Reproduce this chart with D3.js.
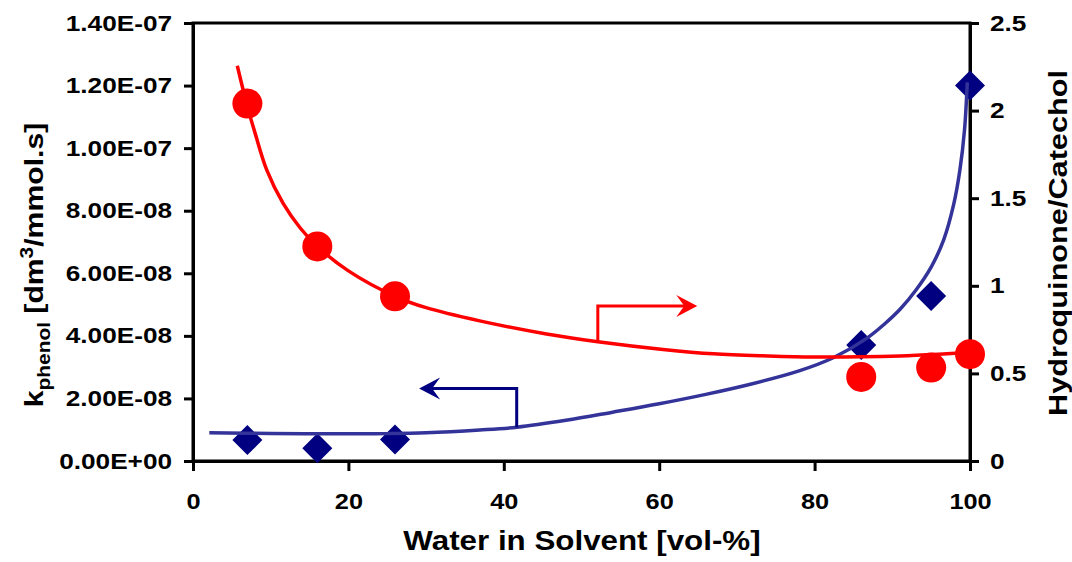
<!DOCTYPE html>
<html>
<head>
<meta charset="utf-8">
<script src="https://cdn.jsdelivr.net/npm/d3@7"></script>
<style>
  body { margin: 0; background: #fff; }
  svg text { font-family: Arial, "Liberation Sans", sans-serif; font-weight: bold; fill: #000; }
  .axis path, .axis line { stroke: #000; stroke-width: 3; }
</style>
</head>
<body>
<div id="chart"></div>
<script>
// measured points
const waterPct = [7, 16, 26, 86, 95, 100];
const kPhenol = [6.7e-9, 4.1e-9, 6.9e-9, 3.71e-8, 5.27e-8, 1.2e-7];
const hqCatRatio = [2.04, 1.225, 0.94, 0.48, 0.533, 0.61];

// trend lines
const kFitX = [2.1, 10, 20, 25, 30, 36.9, 41.7, 48, 54, 60, 66, 72, 78, 82.4, 86.7, 89, 91, 93, 95, 96.6, 97.9, 98.7, 99.3, 99.65];
const kFitY = [9.0e-9, 8.8e-9, 8.7e-9, 8.75e-9, 9.0e-9, 9.9e-9, 1.08e-8, 1.30e-8, 1.56e-8, 1.83e-8, 2.13e-8, 2.47e-8, 2.88e-8, 3.3e-8, 3.92e-8, 4.38e-8, 4.85e-8, 5.45e-8, 6.2e-8, 7.06e-8, 8.2e-8, 9.3e-8, 1.06e-7, 1.21e-7];
const ratioFitX = [5.7, 6.9, 8, 9.5, 11.6, 13.8, 16, 20, 26, 30, 36.9, 45.5, 52.1, 60.5, 67, 74, 80, 86, 91, 96, 100];
const ratioFitY = [2.256, 2.04, 1.87, 1.66, 1.47, 1.33, 1.225, 1.085, 0.94, 0.875, 0.8, 0.725, 0.681, 0.637, 0.612, 0.6, 0.594, 0.595, 0.6, 0.61, 0.62];

// annotation arrows: [stem x, stem bottom, stem top, arrow tip x]
const ratioArrow = [52.1, 0.681, 0.885, 64.9];
const kArrow = [41.66, 1.08e-8, 2.32e-8, 29.1];

const xTicks = [0, 20, 40, 60, 80, 100];
const leftTicks = [0, 2e-8, 4e-8, 6e-8, 8e-8, 1e-7, 1.2e-7, 1.4e-7];
const leftTickLabels = ["0.00E+00", "2.00E-08", "4.00E-08", "6.00E-08", "8.00E-08", "1.00E-07", "1.20E-07", "1.40E-07"];
const rightTicks = [0, 0.5, 1, 1.5, 2, 2.5];
const rightTickLabels = ["0", "0.5", "1", "1.5", "2", "2.5"];

const width = 1072, height = 562;
const margin = { top: 23, right: 102, bottom: 101, left: 193 };

const svg = d3.select("#chart").append("svg")
    .attr("width", width)
    .attr("height", height);

// the original lettering is a bit wider than Arial
function stretch(sel, k) {
    sel.each(function () {
        const len = this.getComputedTextLength();
        d3.select(this).attr("textLength", len * k).attr("lengthAdjust", "spacingAndGlyphs");
    });
}

const x = d3.scaleLinear().domain([0, 100]).range([margin.left, width - margin.right]);
const yL = d3.scaleLinear().domain([0, 1.4e-7]).range([height - margin.bottom, margin.top]);
const yR = d3.scaleLinear().domain([0, 2.5]).range([height - margin.bottom, margin.top]);

// plot frame
svg.append("rect")
    .attr("x", margin.left)
    .attr("y", margin.top)
    .attr("width", width - margin.left - margin.right)
    .attr("height", height - margin.top - margin.bottom)
    .attr("fill", "none")
    .attr("stroke", "#000")
    .attr("stroke-width", 3);

svg.append("g")
    .attr("class", "axis")
    .attr("transform", `translate(0,${height - margin.bottom})`)
    .call(d3.axisBottom(x).tickValues(xTicks).tickSize(10).tickSizeOuter(0).tickPadding(22))
    .call(g => g.selectAll("text").style("font-size", "22px").call(stretch, 1.15));

svg.append("g")
    .attr("class", "axis")
    .attr("transform", `translate(${margin.left},0)`)
    .call(d3.axisLeft(yL).tickValues(leftTicks).tickFormat((d, i) => leftTickLabels[i])
        .tickSize(9).tickSizeOuter(0).tickPadding(12))
    .call(g => g.selectAll("text").style("font-size", "22px").call(stretch, 1.19));

svg.append("g")
    .attr("class", "axis")
    .attr("transform", `translate(${width - margin.right},0)`)
    .call(d3.axisRight(yR).tickValues(rightTicks).tickFormat((d, i) => rightTickLabels[i])
        .tickSize(9).tickSizeOuter(0).tickPadding(11))
    .call(g => g.selectAll("text").style("font-size", "22px").call(stretch, 1.19));

// axis titles
svg.append("text")
    .attr("x", 582)
    .attr("y", 550)
    .attr("text-anchor", "middle")
    .style("font-size", "27px")
    .text("Water in Solvent [vol-%]")
    .call(stretch, 1.16);

const lt = svg.append("text")
    .attr("transform", "translate(43,265) rotate(-90)")
    .attr("text-anchor", "middle")
    .style("font-size", "26px");
lt.append("tspan").text("k");
lt.append("tspan").attr("dy", 7).style("font-size", "18px").text("phenol");
lt.append("tspan").attr("dy", -7).text(" [dm");
lt.append("tspan").attr("dy", -10).style("font-size", "18px").text("3");
lt.append("tspan").attr("dy", 10).text("/mmol.s]");
lt.call(stretch, 1.16);

svg.append("text")
    .attr("transform", "translate(1067,243) rotate(-90)")
    .attr("text-anchor", "middle")
    .style("font-size", "26px")
    .text("Hydroquinone/Catechol")
    .call(stretch, 1.18);

// series
const diamond = d3.symbol(d3.symbolSquare, 450);
svg.append("g").selectAll("path")
    .data(waterPct)
    .join("path")
    .attr("d", diamond)
    .attr("transform", (d, i) => `translate(${x(d)},${yL(kPhenol[i])}) rotate(45)`)
    .attr("fill", "#000080");

svg.append("path")
    .datum(kFitX)
    .attr("fill", "none")
    .attr("stroke", "#333399")
    .attr("stroke-width", 3.5)
    .attr("d", d3.line().x(d => x(d)).y((d, i) => yL(kFitY[i])).curve(d3.curveCatmullRom));

svg.append("g").selectAll("circle")
    .data(waterPct)
    .join("circle")
    .attr("cx", d => x(d))
    .attr("cy", (d, i) => yR(hqCatRatio[i]))
    .attr("r", 15)
    .attr("fill", "#ff0000");

svg.append("path")
    .datum(ratioFitX)
    .attr("fill", "none")
    .attr("stroke", "#ff0000")
    .attr("stroke-width", 3.5)
    .attr("d", d3.line().x(d => x(d)).y((d, i) => yR(ratioFitY[i])).curve(d3.curveCatmullRom));

// arrows pointing to the matching axis
function drawArrow(a, yScale, color) {
    const sx = x(a[0]), y0 = yScale(a[1]), y1 = yScale(a[2]), tx = x(a[3]);
    const dir = tx > sx ? 1 : -1;
    svg.append("path")
        .attr("d", `M${sx},${y0}V${y1}H${tx - dir * 8}`)
        .attr("fill", "none")
        .attr("stroke", color)
        .attr("stroke-width", 3);
    svg.append("path")
        .attr("d", `M${tx},${y1}L${tx - dir * 21},${y1 - 11}L${tx - dir * 13},${y1}L${tx - dir * 21},${y1 + 11}Z`)
        .attr("fill", color);
}
drawArrow(ratioArrow, yR, "#ff0000");
drawArrow(kArrow, yL, "#000080");
</script>
</body>
</html>
